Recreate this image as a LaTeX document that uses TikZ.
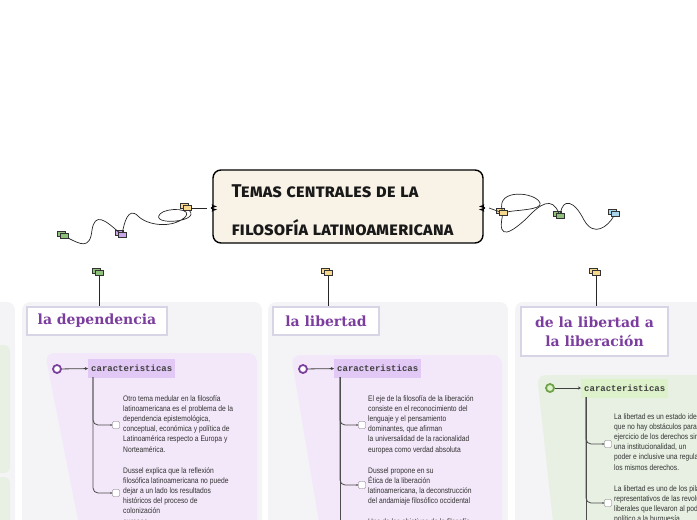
\documentclass[tikz,border=0pt]{standalone}
\usepackage{fontspec}
\usetikzlibrary{arrows.meta, positioning, shadows}

\newfontfamily\bodyfont[FakeStretch=0.84]{Liberation Sans}
\newfontfamily\headfont{DejaVu Serif}
\newfontfamily\tagfont{Liberation Mono}
\newfontfamily\titlefont[Letters=SmallCaps]{Fira Sans}

\definecolor{panelgray}{HTML}{F4F4F7}
\definecolor{panelpurple}{HTML}{F3E8F9}
\definecolor{panelgreen}{HTML}{E7F0E2}
\definecolor{tagpurple}{HTML}{E2C8F5}
\definecolor{taggreen}{HTML}{DDF2CB}
\definecolor{titlecream}{HTML}{F9F2E7}
\definecolor{headpurple}{HTML}{7C3E9E}
\definecolor{headline}{HTML}{D7D4E5}
\definecolor{dotpurple}{HTML}{7B3F9E}
\definecolor{dotgreen}{HTML}{6FA34A}
\definecolor{flaggreen}{HTML}{8DC07A}
\definecolor{flagpurple}{HTML}{C9A6E8}
\definecolor{flagyellow}{HTML}{F5D78E}
\definecolor{flagblue}{HTML}{A8D4EC}
\definecolor{inkgray}{HTML}{333333}

\begin{document}
\begin{tikzpicture}[x=1pt, y=-1pt, >=Stealth,
    panel/.style={fill=panelgray, rounded corners=8pt},
    flag/.style={draw=black!80, line width=0.6pt, minimum width=8pt, minimum height=5pt,
                 inner sep=0, copy shadow={shadow xshift=-2.5pt, shadow yshift=2.5pt}},
    head/.style={draw=headline, line width=1.8pt, fill=white, text=headpurple, align=center,
                 font=\headfont\bfseries\fontsize{14}{19}\selectfont, inner sep=0},
    dot/.style={circle, draw=dotpurple, line width=1.8pt, fill=white, minimum size=8pt, inner sep=0},
    tagbox/.style={fill=tagpurple, text=black!75, font=\tagfont\bfseries\fontsize{9}{10}\selectfont,
                   minimum height=19pt, inner xsep=3pt, anchor=west},
    chk/.style={draw=black!55, fill=white, rounded corners=1.2pt, minimum size=7pt, inner sep=0},
    txt/.style={font=\bodyfont\fontsize{8}{10.2}\selectfont, text=inkgray, align=left,
                inner sep=0, anchor=north west},
    wire/.style={black!85, line width=0.7pt},
    branch/.style={black!70, line width=0.8pt, rounded corners=5pt, -{Stealth[length=2pt, width=2pt]}}
  ]
  \useasboundingbox (0,0) rectangle (697,520);
  \clip (0,0) rectangle (697,520);

  % Column panels
  \fill[panel] (-20,302) rectangle (15,540);
  \fill[panelgreen, rounded corners=6pt] (-20,345) rectangle (10,473);
  \fill[panelgreen, rounded corners=6pt] (-20,477) rectangle (10,540);
  \fill[panel] (22,302) rectangle (262,540);
  \fill[panel] (268,302) rectangle (508,540);
  \fill[panel] (515,302) rectangle (720,540);

  % Inner panels
  \fill[panelpurple, rounded corners=9pt] (82,540) -- (45,353) -- (257,353) -- (257,540) -- cycle;
  \fill[panelpurple, rounded corners=9pt] (322,540) -- (291,355) -- (502,355) -- (502,540) -- cycle;
  \fill[panelgreen, rounded corners=9pt] (555,540) -- (537,375) -- (720,375) -- (720,540) -- cycle;

  % Central topic
  \draw[fill=titlecream, line width=1.4pt, rounded corners=8pt]
    (213,198) .. controls (213,204) and (212,207) .. (207,208)
    .. controls (212,209) and (213,212) .. (213,218) -- (213,243) -- (483,243) -- (483,218)
    .. controls (483,212) and (484,209) .. (489,208)
    .. controls (484,207) and (483,204) .. (483,198) -- (483,170) -- (213,170) -- cycle;
  \coordinate (titleL) at (207,208);
  \coordinate (titleR) at (489,208);
  \node[font=\titlefont\bfseries\fontsize{18.5}{38}\selectfont, text=black!90, align=left, anchor=west]
    (title) at (228,210) {Temas centrales de la\\filosofía latinoamericana};

  % Floating flags, left
  \node[flag, fill=flagyellow] (flL) at (187,208) {};
  \node[flag, fill=flagpurple] (flLp) at (122,235) {};
  \node[flag, fill=flaggreen] (flLg) at (64,236) {};
  \draw[wire] (titleL) -- (flL);
  \draw[wire] (flL) .. controls (200,222) and (150,226) .. (160,214)
    .. controls (166,207) and (196,208) .. (184,218)
    .. controls (172,228) and (148,226) .. (138,216)
    .. controls (128,206) and (124,224) .. (flLp);
  \draw[wire] (flLp) .. controls (105,220) and (95,212) .. (92,230)
    .. controls (90,250) and (80,244) .. (flLg);

  % Floating flags, right
  \node[flag, fill=flagyellow] (flR) at (503,213) {};
  \node[flag, fill=flaggreen] (flRg) at (560,216) {};
  \node[flag, fill=flagblue] (flRb) at (615,214) {};
  \draw[wire] (titleR) -- (flR);
  \draw[wire] (flR) .. controls (496,188) and (536,192) .. (540,203)
    .. controls (543,210) and (515,210) .. (flR);
  \draw[wire] (flR) .. controls (497,242) and (512,232) .. (527,218)
    .. controls (540,204) and (552,196) .. (flRg);
  \draw[wire] (flRg) .. controls (563,198) and (574,200) .. (584,220)
    .. controls (594,238) and (608,226) .. (flRb);

  % Headings
  \node[flag, fill=flaggreen] (fDep) at (99,273) {};
  \node[flag, fill=flagyellow] (fLib) at (328,273) {};
  \node[flag, fill=flagyellow] (fLbr) at (596,273) {};
  \node[head, minimum width=140pt, minimum height=28pt] (hDep) at (97,321) {la dependencia};
  \node[head, minimum width=106pt, minimum height=28pt] (hLib) at (326,321) {la libertad};
  \node[head, minimum width=147pt, minimum height=49pt] (hLbr) at (594.5,331.5)
    {de la libertad a\\la liberación};
  \draw[wire] (fDep) -- (fDep |- hDep.north);
  \draw[wire] (fLib) -- (fLib |- hLib.north);
  \draw[wire] (fLbr) -- (fLbr |- hLbr.north);

  % la dependencia
  \node[dot] (dDep) at (57,369) {};
  \node[tagbox] (carDep) at (88,368) {caracteristicas};
  \draw[black!75, line width=0.8pt, -{Stealth[length=3pt, width=3pt]}] (dDep) -- (carDep);
  \coordinate (trDep) at (93,377);
  \node[chk] (cbDep1) at (116,425) {};
  \node[chk] (cbDep2) at (116,493) {};
  \draw[branch] (trDep) |- (cbDep1);
  \draw[branch] (trDep) |- (cbDep2);
  \node[txt] (txDep1) at (123,395) {Otro tema medular en la filosofía\\latinoamericana es el problema de la\\dependencia epistemológica,\\conceptual, económica y política de\\Latinoamérica respecto a Europa y\\Norteamérica.};
  \node[txt] (txDep2) at (123,467) {Dussel explica que la reflexión\\filosófica latinoamericana no puede\\dejar a un lado los resultados\\históricos del proceso de\\colonización\\europea};

  % la libertad
  \node[dot] (dLib) at (303,369) {};
  \node[tagbox] (carLib) at (334,368) {caracteristicas};
  \draw[black!75, line width=0.8pt, -{Stealth[length=3pt, width=3pt]}] (dLib) -- (carLib);
  \coordinate (trLib) at (340,377);
  \node[chk] (cbLib1) at (362,425) {};
  \node[chk] (cbLib2) at (362,485) {};
  \draw[branch] (trLib) |- (cbLib1);
  \draw[branch] (trLib) |- (cbLib2);
  \draw[black!70, line width=0.8pt] (trLib) -- (340,530);
  \node[txt] (txLib1) at (368,395) {El eje de la filosofía de la liberación\\consiste en el reconocimiento del\\lenguaje y el pensamiento\\dominantes, que afirman\\la universalidad de la racionalidad\\europea como verdad absoluta};
  \node[txt] (txLib2) at (368,467) {Dussel propone en su\\Ética de la liberación\\latinoamericana, la deconstrucción\\del andamiaje filosófico occidental};
  \node[txt] (txLib3) at (368,518) {Uno de los objetivos de la filosofía};

  % de la libertad a la liberacion
  \node[dot, draw=dotgreen, fill=taggreen] (dLbr) at (550,388) {};
  \node[tagbox, fill=taggreen] (carLbr) at (581,388) {caracteristicas};
  \draw[black!75, line width=0.8pt, -{Stealth[length=3pt, width=3pt]}] (dLbr) -- (carLbr);
  \coordinate (trLbr) at (586,397);
  \node[chk] (cbLbr1) at (608,444) {};
  \node[chk] (cbLbr2) at (608,503) {};
  \draw[branch] (trLbr) |- (cbLbr1);
  \draw[branch] (trLbr) |- (cbLbr2);
  \draw[black!70, line width=0.8pt] (trLbr) -- (586,530);
  \node[txt] (txLbr1) at (614,413) {La libertad es un estado ideal en el\\que no hay obstáculos para el\\ejercicio de los derechos sino\\una institucionalidad, un\\poder e inclusive una regulación de\\los mismos derechos.};
  \node[txt] (txLbr2) at (614,485) {La libertad es uno de los pilares\\representativos de las revoluciones\\liberales que llevaron al poder\\político a la burguesía.};
\end{tikzpicture}
\end{document}
